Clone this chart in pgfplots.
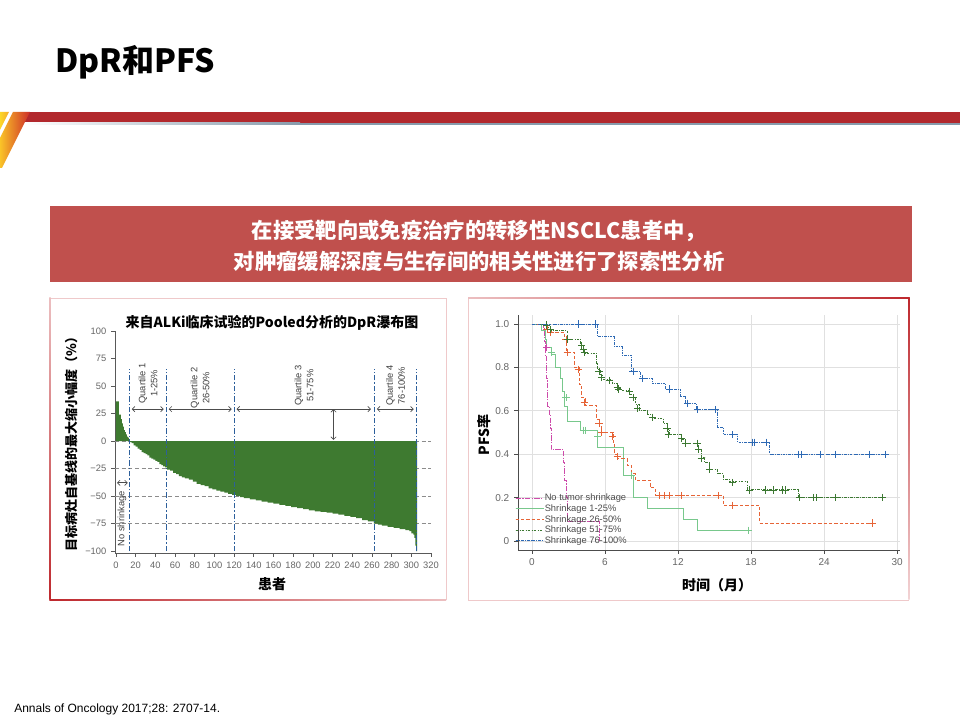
\documentclass[border=0pt]{standalone}
\usepackage{pgfplots}
\pgfplotsset{compat=1.18}
\usepackage{fontspec}
\setmainfont{Liberation Sans}
\newfontfamily\cjk{Noto Sans CJK SC}
\usetikzlibrary{arrows.meta}
\definecolor{hdrred}{RGB}{178,40,45}
\definecolor{hdrgray}{RGB}{135,155,172}
\definecolor{stripeY}{RGB}{250,195,40}
\definecolor{stripeR}{RGB}{205,45,40}
\definecolor{stripeY2}{RGB}{252,215,40}
\definecolor{stripeO}{RGB}{245,170,40}
\definecolor{bannerred}{RGB}{192,80,77}
\definecolor{panelred}{RGB}{190,40,45}
\definecolor{wfgreen}{RGB}{62,122,48}
\definecolor{qblue}{RGB}{45,95,155}
\definecolor{kmpink}{RGB}{205,75,170}
\definecolor{kmlg}{RGB}{120,200,140}
\definecolor{kmor}{RGB}{230,100,55}
\definecolor{kmdg}{RGB}{60,120,50}
\definecolor{kmbl}{RGB}{45,105,180}
\begin{document}
\begin{tikzpicture}[x=0.75pt,y=0.75pt]
\fill[white] (0,0) rectangle (960,720);
% header
\node[anchor=base west, inner sep=0pt, font=\cjk\bfseries\fontsize{24}{28}\selectfont] at (55,647) {DpR和PFS};
\fill[hdrred] (20,608) rectangle (960,597);
\shade[left color=white, right color=hdrgray] (24,597) rectangle (300,595);
\fill[hdrgray] (300,597) rectangle (960,595);
\shade[left color=stripeY, right color=stripeR] (13,608) -- (30,608) -- (2,552) -- (0,552) -- (0,582) -- cycle;
\shade[left color=stripeY2, right color=stripeO] (0,608) -- (9,608) -- (0,590) -- cycle;
% banner
\fill[bannerred] (50,438) rectangle (912,514);
\node[anchor=base, inner sep=0pt, text=white, font=\cjk\bfseries\fontsize{16}{18}\selectfont] at (479,481) {在接受靶向或免疫治疗的转移性NSCLC患者中，};
\node[anchor=base, inner sep=0pt, text=white, font=\cjk\bfseries\fontsize{16}{18}\selectfont] at (479,450) {对肿瘤缓解深度与生存间的相关性进行了探索性分析};
% panels
\draw[panelred!25, line width=0.6pt] (50,422) -- (446,422) -- (446,120);
\shade[top color=panelred!30, bottom color=panelred] (49.3,422) rectangle (50.7,120);
\shade[left color=panelred, right color=panelred!30] (49.3,119.3) rectangle (446,120.7);
\draw[panelred!25, line width=0.6pt] (468,422) -- (468,120) -- (909,120);
\shade[left color=panelred!30, right color=panelred] (468,421.3) rectangle (909.7,422.7);
\shade[top color=panelred, bottom color=panelred!20] (908.3,422.7) rectangle (909.7,120);
% labels
\node[font=\cjk\bfseries\fontsize{10.5}{12}\selectfont, anchor=base] at (272,392) {来自ALKi临床试验的Pooled分析的DpR瀑布图};
\node[rotate=90, font=\cjk\bfseries\fontsize{9.75}{11}\selectfont] at (72,279) {目标病灶自基线的最大缩小幅度（\%）};
\node[font=\cjk\bfseries\fontsize{10.5}{12}\selectfont] at (272,136) {患者};
\node[rotate=90, font=\cjk\bfseries\fontsize{10.5}{12}\selectfont] at (484,285) {PFS率};
\node[font=\cjk\bfseries\fontsize{10.5}{12}\selectfont] at (717,135) {时间（月）};
\node[anchor=base west, inner sep=0pt, font=\fontsize{9}{10}\selectfont] at (14,7) {Annals of Oncology 2017;28: 2707-14.};
% waterfall
\begin{axis}[
  at={(86.25pt,125.25pt)}, anchor=south west, scale only axis,
  width=237pt, height=166.5pt,
  xmin=-1, xmax=320, ymin=-101.8, ymax=100,
  axis x line*=bottom, axis y line*=left,
  axis line style={-, black!65, line width=0.6pt},
  xtick={0,20,...,320},
  xticklabels={0,20,40,60,80,100,120,140,160,180,200,220,240,260,280,300,320},
  ytick={-100,-75,-50,-25,0,25,50,75,100},
  yticklabels={−100,−75,−50,−25,0,25,50,75,100},
  tick align=outside, major tick length=3pt,
  tick style={black!65, line width=0.5pt},
  ticklabel style={font=\fontsize{7}{8}\selectfont, text=black!60},
  extra y ticks={-75,-50,-25,0},
  extra y tick labels={},
  extra y tick style={grid=major, major grid style={black!45, dash pattern=on 3pt off 2pt, line width=0.5pt}, major tick length=0pt},
  clip=false,
]
\addplot[const plot, fill=wfgreen, draw=none] coordinates {
(0,36)(3,24)(5,20)(6,16)(7,13)(8,10)(9,8)(10,6)(11,4)(12,3)(13,1)
(14,-1)(16,-2)(18,-4)(20,-5)(22,-7)(24,-8)(26,-10)(28,-11)(30,-12)(32,-13)(34,-15)(36,-16)(38,-17)(40,-18)
(42,-19)(44,-21)(46,-22)(48,-23)(50,-24)(52,-26)(55,-27)(58,-29)(61,-30)(64,-32)(67,-33)(70,-34)(74,-35)
(78,-37)(82,-39)(86,-40)(90,-41)(94,-43)(98,-44)(102,-45)(106,-46)(110,-47)(114,-48)(118,-49)(122,-50)
(126,-51)(130,-52)(136,-53)(142,-54)(148,-55)(154,-56)(160,-57)(166,-58)(172,-59)(178,-60)(184,-61)
(190,-62)(196,-63)(202,-64)(208,-64.5)(214,-65)(220,-66)(226,-67)(232,-68)(238,-69)(244,-70)(250,-72)
(256,-73)(262,-75)(266,-76)(270,-77)(276,-78)(282,-79)(288,-80)(294,-81)(298,-82)(300,-84)(302,-85)
(303,-88)(304,-95)(305,-100)(306,-100)} \closedcycle;
\addplot[qblue, line width=0.6pt, dash pattern=on 4pt off 1.5pt on 1pt off 1.5pt] coordinates {(13.5,-100)(13.5,65)};
\addplot[qblue, line width=0.6pt, dash pattern=on 4pt off 1.5pt on 1pt off 1.5pt] coordinates {(51,-100)(51,65)};
\addplot[qblue, line width=0.6pt, dash pattern=on 4pt off 1.5pt on 1pt off 1.5pt] coordinates {(120,-100)(120,65)};
\addplot[qblue, line width=0.6pt, dash pattern=on 4pt off 1.5pt on 1pt off 1.5pt] coordinates {(262,-100)(262,65)};
\addplot[qblue, line width=0.6pt, dash pattern=on 4pt off 1.5pt on 1pt off 1.5pt] coordinates {(305.5,-100)(305.5,65)};
\draw[black!70, line width=0.5pt, {Straight Barb[length=2pt]}-{Straight Barb[length=2pt]}] (axis cs:16,29) -- (axis cs:48.5,29);
\draw[black!70, line width=0.5pt, {Straight Barb[length=2pt]}-{Straight Barb[length=2pt]}] (axis cs:53.5,29) -- (axis cs:117.5,29);
\draw[black!70, line width=0.5pt, {Straight Barb[length=2pt]}-{Straight Barb[length=2pt]}] (axis cs:122.5,29) -- (axis cs:259,29);
\draw[black!70, line width=0.5pt, {Straight Barb[length=2pt]}-{Straight Barb[length=2pt]}] (axis cs:265,29) -- (axis cs:302.5,29);
\draw[black!70, line width=0.5pt, {Straight Barb[length=2pt]}-{Straight Barb[length=2pt]}] (axis cs:221,29) -- (axis cs:221,1);
\draw[black!70, line width=0.5pt, {Straight Barb[length=2pt]}-{Straight Barb[length=2pt]}] (axis cs:1,-38) -- (axis cs:12,-38);
\node[rotate=90, anchor=east, align=center, inner sep=0pt, font=\fontsize{7}{9}\selectfont, text=black!75] at (axis cs:32.5,71) {Quartile 1\\1-25\%};
\node[rotate=90, anchor=east, align=center, inner sep=0pt, font=\fontsize{7}{9}\selectfont, text=black!75] at (axis cs:85.5,67) {Quartile 2\\26-50\%};
\node[rotate=90, anchor=east, align=center, inner sep=0pt, font=\fontsize{7}{9}\selectfont, text=black!75] at (axis cs:191,69) {Quartile 3\\51-75\%};
\node[rotate=90, anchor=east, align=center, inner sep=0pt, font=\fontsize{7}{9}\selectfont, text=black!75] at (axis cs:284,69) {Quartile 4\\76-100\%};
\node[rotate=90, anchor=west, inner sep=0pt, font=\fontsize{7}{8}\selectfont, text=black!75] at (axis cs:6,-96) {No shrinkage};
\end{axis}
% KM
\begin{axis}[
  at={(388.5pt,127.5pt)}, anchor=south west, scale only axis,
  width=286.5pt, height=176.25pt,
  xmin=-1.15, xmax=30.24, ymin=-0.0415, ymax=1.0415,
  axis x line*=bottom, axis y line*=left,
  axis line style={-, black!70, line width=0.7pt},
  xtick={0,6,12,18,24,30}, xticklabels={0,6,12,18,24,30},
  ytick={0,0.2,0.4,0.6,0.8,1.0}, yticklabels={0,0.2,0.4,0.6,0.8,1.0},
  grid=major, major grid style={black!12, line width=0.6pt},
  tick align=outside, major tick length=3pt,
  tick style={black!70, line width=0.5pt},
  ticklabel style={font=\fontsize{7.5}{8}\selectfont, text=black!60},
  legend style={at={(-0.008,0.245)}, anchor=north west, draw=none, fill=none,
    font=\fontsize{7}{8}\selectfont, text=black!70, inner sep=0pt,
    nodes={inner sep=0.5pt, text height=5.5pt, text depth=1.5pt}},
  legend cell align=left,
  legend image code/.code={\path (0pt,0pt) -- (21pt,0pt); \draw[#1, line width=0.7pt] (0pt,0pt) -- (16pt,0pt);},
  clip=false,
]
\addplot[kmpink, line width=0.6pt, const plot, dash pattern=on 4pt off 1pt on 1pt off 1pt] coordinates {
(0,1)(0.9,0.97)(1.0,0.92)(1.1,0.85)(1.2,0.75)(1.3,0.62)(1.4,0.58)(1.5,0.52)(1.6,0.42)(2.6,0.36)(2.7,0.28)(2.8,0.20)(2.9,0.09)(5.5,0.0)(5.5,0.0)};
\addlegendentry{No tumor shrinkage}
\addplot[kmlg, line width=0.6pt, const plot] coordinates {
(0,1)(0.8,0.97)(1.1,0.93)(1.2,0.89)(1.6,0.86)(1.9,0.80)(2.3,0.75)(2.5,0.69)(2.7,0.62)(2.9,0.55)(4.0,0.51)(5.4,0.43)(7.5,0.30)(8.3,0.20)(9.5,0.15)(12.4,0.10)(13.6,0.05)(18.0,0.05)};
\addlegendentry{Shrinkage 1-25\%}
\addplot[kmor, line width=0.6pt, const plot, dash pattern=on 2.5pt off 1.5pt] coordinates {
(0,1)(1.0,0.975)(1.6,0.96)(2.7,0.93)(2.85,0.87)(3.5,0.80)(3.9,0.72)(4.1,0.66)(4.4,0.625)(5.3,0.56)(5.5,0.53)(5.7,0.50)(6.7,0.45)(6.8,0.40)(7.0,0.38)(7.8,0.35)(8.2,0.31)(8.5,0.28)(9.7,0.245)(10.1,0.21)(15.7,0.165)(18.7,0.083)(28.0,0.083)};
\addlegendentry{Shrinkage 26-50\%}
\addplot[kmdg, line width=0.6pt, const plot, dash pattern=on 2pt off 1pt on 0.5pt off 1pt] coordinates {
(0,1.0)(1.2,0.985)(1.5,0.97)(2.9,0.93)(4.0,0.90)(4.2,0.885)(4.3,0.865)(5.3,0.82)(5.4,0.79)(5.6,0.765)(5.8,0.745)(6.6,0.725)(7.0,0.705)(7.3,0.695)(8.0,0.675)(8.3,0.655)(8.5,0.63)(8.8,0.60)(9.5,0.585)(9.9,0.565)(10.8,0.54)(11.1,0.515)(11.3,0.49)(12.3,0.47)(12.6,0.45)(13.7,0.42)(13.9,0.385)(14.2,0.36)(14.6,0.33)(15.2,0.31)(15.7,0.285)(16.2,0.275)(17.7,0.24)(21.9,0.20)(28.8,0.20)};
\addlegendentry{Shrinkage 51-75\%}
\addplot[kmbl, line width=0.6pt, const plot, dash pattern=on 2pt off 0.8pt on 0.6pt off 0.8pt] coordinates {
(0,1)(5.4,0.945)(6.8,0.895)(7.4,0.857)(8.2,0.78)(8.9,0.75)(9.9,0.725)(11.0,0.70)(12.2,0.665)(12.6,0.635)(13.5,0.605)(15.2,0.525)(15.7,0.49)(16.9,0.455)(19.5,0.40)(29.0,0.40)};
\addlegendentry{Shrinkage 76-100\%}
\addplot[only marks, mark=+, mark size=2.7pt, kmpink, mark options={line width=0.6pt}, forget plot] coordinates {(1.2,0.89)};
\addplot[only marks, mark=+, mark size=2.7pt, kmlg, mark options={line width=0.6pt}, forget plot] coordinates {(1.6,0.87)(2.8,0.66)(4.2,0.51)(4.4,0.51)(5.4,0.48)(8.2,0.30)(17.8,0.05)};
\addplot[only marks, mark=+, mark size=2.7pt, kmor, mark options={line width=0.6pt}, forget plot] coordinates {(1.3,0.975)(1.5,0.96)(2.8,0.93)(2.9,0.87)(3.8,0.79)(4.3,0.64)(5.5,0.54)(5.7,0.50)(6.6,0.48)(7.0,0.39)(10.5,0.21)(10.9,0.21)(11.3,0.21)(12.3,0.21)(15.3,0.21)(16.5,0.165)(28.0,0.083)};
\addplot[only marks, mark=+, mark size=2.7pt, kmdg, mark options={line width=0.6pt}, forget plot] coordinates {(1.2,0.995)(1.5,0.975)(2.9,0.93)(4.1,0.90)(4.2,0.885)(4.3,0.87)(5.5,0.78)(5.7,0.755)(6.4,0.74)(7.0,0.71)(7.1,0.70)(8.0,0.69)(8.3,0.66)(8.7,0.61)(9.9,0.57)(11.1,0.52)(11.2,0.49)(12.3,0.475)(12.6,0.45)(13.6,0.45)(13.7,0.42)(13.9,0.38)(14.6,0.33)(16.5,0.27)(17.9,0.235)(19.2,0.235)(19.8,0.235)(20.6,0.235)(20.8,0.235)(22.0,0.20)(23.1,0.20)(23.4,0.20)(24.9,0.20)(28.8,0.20)};
\addplot[only marks, mark=+, mark size=2.7pt, kmbl, mark options={line width=0.6pt}, forget plot] coordinates {(3.8,1)(5.2,1)(8.3,0.78)(9.1,0.75)(11.3,0.70)(12.8,0.635)(13.6,0.605)(15.1,0.605)(16.5,0.49)(18.1,0.455)(18.3,0.455)(19.3,0.455)(21.9,0.40)(22.1,0.40)(23.7,0.40)(24.9,0.40)(27.7,0.40)(29.0,0.40)};
\end{axis}
\pgfresetboundingbox
\path[use as bounding box] (0,0) rectangle (960,720);
\end{tikzpicture}
\end{document}
